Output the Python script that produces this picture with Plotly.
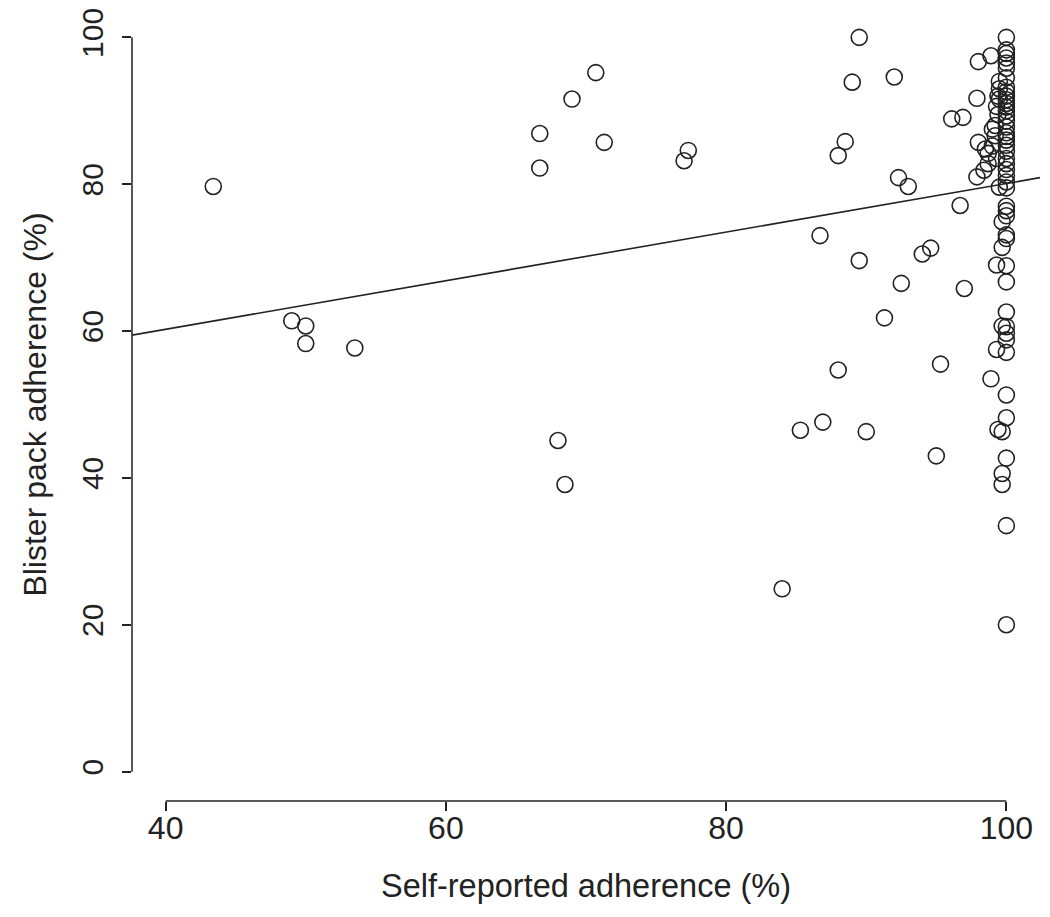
import plotly.graph_objects as go

# ── Data ───────────────────────────────────────────────────────────────────────
self_reported = [
    # far left / mid range
    43.4, 49.0, 50.0, 50.0, 53.5,
    66.7, 66.7, 69.0, 70.7, 71.3, 68.0, 68.5, 77.0, 77.3,
    84.0, 85.3, 86.9, 90.0, 86.7, 88.0, 89.5, 91.3, 92.5, 94.0, 94.6, 95.0, 95.3,
    89.5, 89.0, 92.0, 88.5, 88.0, 92.3, 93.0,
    # 96 - 99
    98.0, 98.9, 97.9, 96.1, 96.9, 98.0, 98.5, 98.7, 98.7, 98.4, 97.9,
    96.7, 97.0, 98.9,
    # ~99.5
    99.5, 99.5, 99.4, 99.5, 99.3, 99.4, 99.2, 99.0, 99.2, 99.0, 99.3,
    99.5, 99.7, 99.7, 99.3, 99.7, 99.3, 99.4, 99.7, 99.7, 99.7,
    # 100
    100, 100, 100, 100, 100, 100, 100, 100, 100, 100, 100, 100, 100, 100, 100,
    100, 100, 100, 100, 100, 100, 100, 100, 100, 100, 100, 100, 100, 100, 100,
    100, 100, 100, 100, 100, 100, 100, 100, 100, 100, 100, 100, 100, 100, 100,
]
blister_pack = [
    79.7, 61.4, 60.7, 58.3, 57.7,
    86.9, 82.2, 91.6, 95.2, 85.7, 45.1, 39.1, 83.2, 84.6,
    24.9, 46.5, 47.6, 46.3, 73.0, 54.7, 69.6, 61.8, 66.5, 70.5, 71.3, 43.0, 55.5,
    100.0, 93.9, 94.6, 85.8, 83.9, 80.9, 79.7,
    96.7, 97.5, 91.7, 88.9, 89.1, 85.7, 84.8, 84.2, 82.8, 81.9, 81.0,
    77.1, 65.8, 53.5,
    94.0, 93.0, 92.0, 91.6, 90.6, 89.5, 88.0, 87.5, 86.6, 85.2, 83.5,
    79.6, 74.9, 71.4, 69.0, 60.7, 57.5, 46.6, 46.3, 40.6, 39.1,
    100.0, 98.3, 97.8, 97.2, 96.5, 95.8, 94.5, 93.2, 92.6, 92.0, 91.5, 91.0, 90.5, 90.0, 89.3,
    88.6, 87.8, 87.0, 86.5, 86.0, 85.3, 84.5, 83.5, 82.8, 82.0, 81.2, 80.3, 79.5, 77.0, 76.4,
    75.7, 73.1, 72.6, 68.9, 66.7, 62.6, 60.6, 59.7, 58.8, 57.1, 51.3, 48.2, 42.7, 33.5, 20.0,
]

# fitted line
FIT_INTERCEPT = 47.0
FIT_SLOPE = 0.331

X_TICKS = [40, 60, 80, 100]
Y_TICKS = [0, 20, 40, 60, 80, 100]

# R-style ranges: limits extended by 4 %
X_RANGE = [40 - 0.04 * 60, 100 + 0.04 * 60]
Y_RANGE = [0 - 0.04 * 100, 100 + 0.04 * 100]

INK = "#222222"
FONT = "Liberation Sans, Arial, sans-serif"

fig = go.Figure()

fig.add_trace(go.Scatter(
    x=X_RANGE,
    y=[FIT_INTERCEPT + FIT_SLOPE * v for v in X_RANGE],
    mode="lines",
    line=dict(color=INK, width=1.6),
    hoverinfo="skip",
    showlegend=False,
))

fig.add_trace(go.Scatter(
    x=self_reported,
    y=blister_pack,
    mode="markers",
    marker=dict(symbol="circle-open", size=16, color=INK, line=dict(width=1.6, color=INK)),
    showlegend=False,
))

# R draws the axis line only between first and last tick
fig.add_shape(type="line", xref="x", yref="paper", x0=X_TICKS[0], x1=X_TICKS[-1], y0=0, y1=0,
              line=dict(color=INK, width=1.5))
fig.add_shape(type="line", xref="paper", yref="y", x0=0, x1=0, y0=Y_TICKS[0], y1=Y_TICKS[-1],
              line=dict(color=INK, width=1.5))

# page body has an 8px margin, so the figure is a bit smaller than the window
fig.update_layout(
    width=1042,
    height=909,
    margin=dict(l=124, r=10, t=0, b=116),
    plot_bgcolor="white",
    paper_bgcolor="white",
    font=dict(family=FONT, color=INK),
    xaxis=dict(
        range=X_RANGE,
        tickvals=X_TICKS,
        ticks="outside",
        ticklen=9,
        tickwidth=1.5,
        tickcolor=INK,
        ticklabelstandoff=-10,
        ticklabeloverflow="allow",
        tickfont=dict(size=32),
        showline=False,
        showgrid=False,
        zeroline=False,
        automargin=False,
        title=dict(text="Self-reported adherence (%)", font=dict(size=32.5), standoff=28),
    ),
    yaxis=dict(
        range=Y_RANGE,
        tickvals=Y_TICKS,
        ticks="outside",
        ticklen=9,
        tickwidth=1.5,
        tickcolor=INK,
        tickangle=-90,
        ticklabelstandoff=7,
        ticklabeloverflow="allow",
        tickfont=dict(size=30),
        showline=False,
        showgrid=False,
        zeroline=False,
        automargin=False,
        title=dict(text="Blister pack adherence (%)", font=dict(size=32), standoff=19),
    ),
)

fig.write_html("out.html")
